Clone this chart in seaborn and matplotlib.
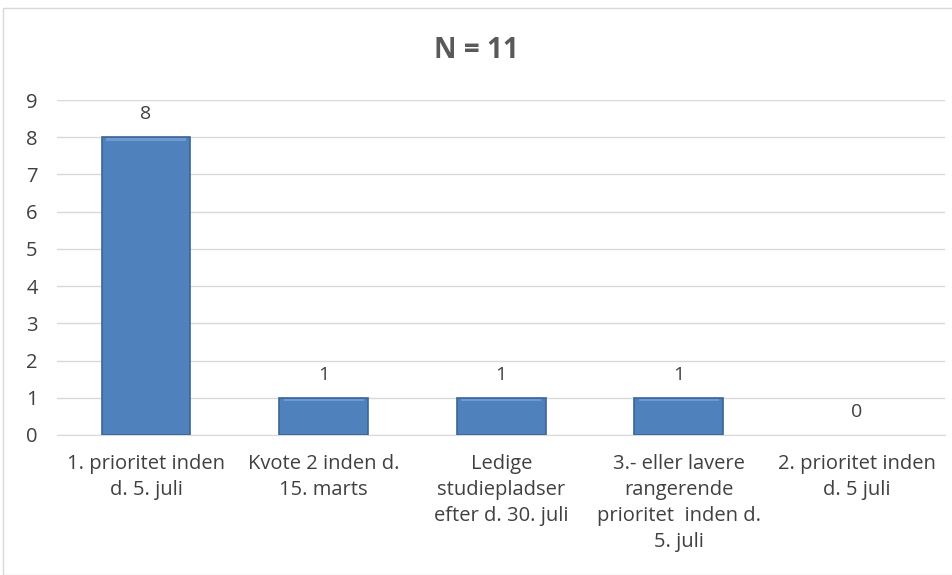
import seaborn as sns
import matplotlib.pyplot as plt
from matplotlib.patches import Rectangle

# data
kategorier = [
    "1. prioritet inden\nd. 5. juli",
    "Kvote 2 inden d.\n15. marts",
    "Ledige\nstudiepladser\nefter d. 30. juli",
    "3.- eller lavere\nrangerende\nprioritet  inden d.\n5. juli",
    "2. prioritet inden\nd. 5 juli",
]
antal = [8, 1, 1, 1, 0]
titel = "N = 11"

sns.set_style("white")
plt.rcParams["font.family"] = ["Open Sans", "DejaVu Sans"]

fig = plt.figure(figsize=(9.52, 5.75), dpi=100)
ax = fig.add_axes([0.06, 0.2435, 0.933, 0.5825])

sns.barplot(x=kategorier, y=antal, color="#4F81BD", width=0.5, ax=ax,
            edgecolor="#3A6595", linewidth=1.2, saturation=1, zorder=3)

# subtle bevel effect + hide zero-height bars
for b, v in zip(ax.patches, antal):
    b.set_zorder(3)
    if v == 0:
        b.set_visible(False)
        continue
    x, w = b.get_x(), b.get_width()
    ax.add_patch(Rectangle((x + w * 0.05, v - 0.09), w * 0.9, 0.07,
                           facecolor="#6E9AD0", edgecolor="none", zorder=4))

ax.bar_label(ax.containers[0], labels=[str(v) for v in antal],
             padding=10, fontsize=14, color="#404040")

ax.set_ylim(0, 9)
ax.set_yticks(range(0, 10))
ax.grid(axis="y", color="#D9D9D9", linewidth=1, zorder=0)
ax.set_axisbelow(True)
for s in ["top", "right", "left"]:
    ax.spines[s].set_visible(False)
ax.spines["bottom"].set_color("#D9D9D9")
ax.tick_params(axis="both", length=0, labelsize=14.5, labelcolor="#404040")
ax.tick_params(axis="y", pad=14)
ax.tick_params(axis="x", pad=14)
for t in ax.get_xticklabels():
    t.set_linespacing(1.4)
ax.set_xlim(-0.5, 4.5)

fig.text(0.5, 0.912, titel, ha="center", va="center", fontsize=20,
         fontweight="bold", color="#595959")

fig.patches.append(Rectangle((3 / 952, 0), 1.2, 1 - 8 / 575,
                             transform=fig.transFigure, fill=False,
                             edgecolor="#D9D9D9", linewidth=1))

fig.savefig("out.png", dpi=100)
